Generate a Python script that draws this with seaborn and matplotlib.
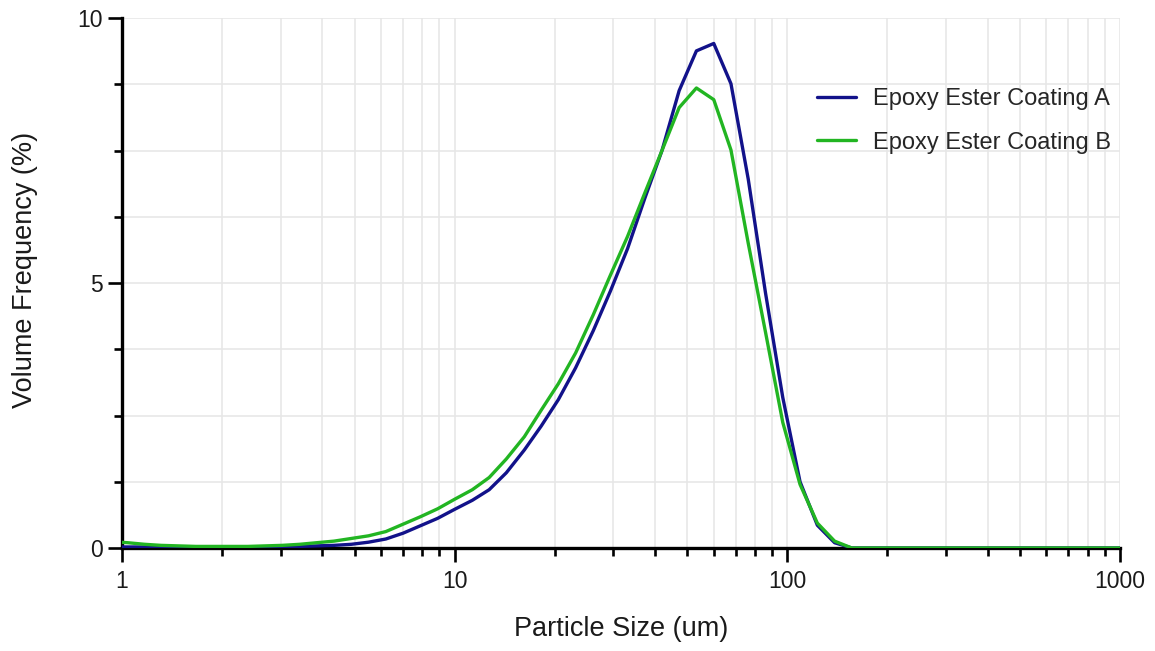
import numpy as np
import pandas as pd
import matplotlib
matplotlib.use("Agg")
import matplotlib.pyplot as plt
import matplotlib.ticker as mticker
import seaborn as sns

# particle size classes (um) and volume frequency (%)
sizes = [0.92, 1.04, 1.17, 1.31, 1.48, 1.67, 1.88, 2.12, 2.39, 2.69,
         3.03, 3.42, 3.85, 4.34, 4.89, 5.51, 6.21, 7.00, 7.89, 8.89,
         10.0, 11.3, 12.7, 14.3, 16.2, 18.2, 20.5, 23.1, 26.1, 29.4,
         33.1, 37.3, 42.0, 47.3, 53.3, 60.1, 67.7, 76.3, 86.0, 96.9,
         109.2, 123.1, 138.7, 156.3, 176.2, 198.5, 223.7, 252.2, 284.2, 320.2,
         360.9, 406.8, 458.4, 516.6, 582.2, 656.2, 739.5, 833.4, 939.3, 1058.6]

coating_a = [0.02, 0.02, 0.02, 0.02, 0.02, 0.02, 0.02, 0.02, 0.02, 0.02,
             0.02, 0.03, 0.04, 0.05, 0.07, 0.11, 0.17, 0.28, 0.42, 0.56,
             0.73, 0.90, 1.10, 1.42, 1.85, 2.30, 2.80, 3.40, 4.10, 4.85,
             5.65, 6.60, 7.50, 8.63, 9.38, 9.52, 8.76, 6.96, 4.81, 2.84,
             1.25, 0.43, 0.10, 0.0, 0.0, 0.0, 0.0, 0.0, 0.0, 0.0,
             0.0, 0.0, 0.0, 0.0, 0.0, 0.0, 0.0, 0.0, 0.0, 0.0]

coating_b = [0.12, 0.10, 0.07, 0.05, 0.04, 0.03, 0.03, 0.03, 0.03, 0.04,
             0.05, 0.07, 0.10, 0.13, 0.18, 0.23, 0.31, 0.45, 0.59, 0.74,
             0.92, 1.10, 1.33, 1.68, 2.10, 2.60, 3.10, 3.68, 4.40, 5.15,
             5.88, 6.70, 7.50, 8.31, 8.68, 8.46, 7.51, 5.75, 4.07, 2.37,
             1.20, 0.47, 0.13, 0.0, 0.0, 0.0, 0.0, 0.0, 0.0, 0.0,
             0.0, 0.0, 0.0, 0.0, 0.0, 0.0, 0.0, 0.0, 0.0, 0.0]

sample_names = ["Epoxy Ester Coating A", "Epoxy Ester Coating B"]
colors = ["#12128a", "#22b522"]
x_ticks = [1, 10, 100, 1000]
x_tick_labels = ["1", "10", "100", "1000"]
y_ticks = [0, 5, 10]

df = pd.DataFrame({
    "size": sizes + sizes,
    "freq": coating_a + coating_b,
    "sample": [sample_names[0]] * len(sizes) + [sample_names[1]] * len(sizes),
})

sns.set_theme(style="ticks")
plt.rcParams["font.family"] = ["Liberation Sans", "DejaVu Sans"]

fig = plt.figure(figsize=(11.55, 6.51), dpi=100)
ax = fig.add_axes([0.1056, 0.1582, 0.8641, 0.8141])

sns.lineplot(data=df, x="size", y="freq", hue="sample", estimator=None,
             palette=dict(zip(sample_names, colors)), linewidth=2.4,
             ax=ax, zorder=3)

ax.set_xscale("log")
ax.set_xlim(1, 1000)
ax.set_ylim(0, 10)

ax.set_xticks(x_ticks)
ax.set_xticklabels(x_tick_labels)
ax.xaxis.set_minor_locator(mticker.LogLocator(base=10, subs=np.arange(2, 10)))
ax.xaxis.set_minor_formatter(mticker.NullFormatter())
ax.set_yticks(y_ticks)
ax.yaxis.set_minor_locator(mticker.MultipleLocator(1.25))

ax.grid(True, which="both", color="#e6e6e6", linewidth=1.1, zorder=0)
ax.set_axisbelow(True)

for s in ["top", "right"]:
    ax.spines[s].set_visible(False)
for s in ["left", "bottom"]:
    ax.spines[s].set_linewidth(2.4)
    ax.spines[s].set_color("black")

ax.tick_params(which="major", length=10, width=1.9, color="black",
               labelsize=16.5, labelcolor="#1a1a1a")
ax.tick_params(axis="x", which="major", pad=6)
ax.tick_params(axis="y", which="major", pad=4)
ax.tick_params(which="minor", length=5.5, width=1.9, color="black")

ax.set_xlabel("Particle Size (um)", fontsize=19.5, color="#1a1a1a")
ax.set_ylabel("Volume Frequency (%)", fontsize=19.5, color="#1a1a1a")
ax.xaxis.set_label_coords(0.5, -0.128)
ax.yaxis.set_label_coords(-0.084, 0.525)

ax.legend(loc="upper left", bbox_to_anchor=(0.687, 0.885), frameon=False,
          fontsize=17, handlelength=1.65, handletextpad=0.7,
          labelspacing=0.9, borderaxespad=0)

fig.savefig("out.png", dpi=100)
